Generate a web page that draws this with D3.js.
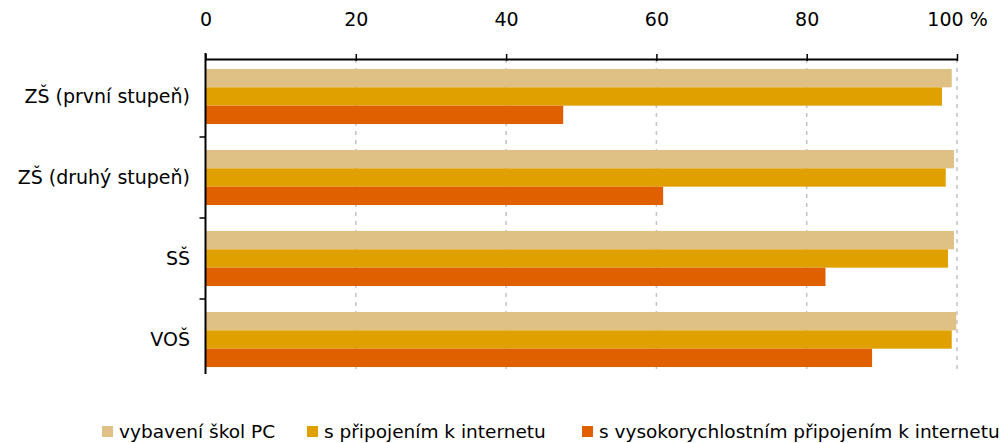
<!DOCTYPE html>
<html>
<head>
<meta charset="utf-8">
<script src="https://cdn.jsdelivr.net/npm/d3@7"></script>
<style>
	body { margin: 0; background: #fff; }
	svg { display: block; font-family: "DejaVu Sans", Verdana, sans-serif; }
	.tick text { fill: #000; }
</style>
</head>
<body>
<svg width="1008" height="443"></svg>
<script>
var categories = ['ZŠ (první stupeň)', 'ZŠ (druhý stupeň)', 'SŠ', 'VOŠ'];
var seriesNames = ['vybavení škol PC', 's připojením k internetu', 's vysokorychlostním připojením k internetu'];
var pcValues = [99.3, 99.6, 99.6, 99.9];
var internetValues = [98.0, 98.5, 98.8, 99.3];
var highSpeedValues = [47.6, 60.9, 82.5, 88.7];
var xTicks = [0, 20, 40, 60, 80, 100];
var colors = ['#dfc185', '#e0a000', '#e06000'];

var series = [pcValues, internetValues, highSpeedValues];
var fontSize = '19px';

var svg = d3.select('svg');

var x = d3.scaleLinear()
				.domain([0, 100])
				.range([205.5, 957]);

var y = d3.scaleBand()
				.domain(categories)
				.range([56, 380])
				.paddingInner(0.32)
				.paddingOuter(0.16);

var inner = d3.scaleBand()
				.domain(d3.range(series.length))
				.range([0, y.bandwidth()]);

var axisTop = 59, axisBottom = 374;

// dashed grid
svg.append('g')
	.selectAll('line')
	.data(xTicks.slice(1))
	.enter().append('line')
	.attr('x1', function(d) { return x(d); })
	.attr('x2', function(d) { return x(d); })
	.attr('y1', axisTop)
	.attr('y2', axisBottom)
	.attr('stroke', '#c4c4c4')
	.attr('stroke-width', 1.5)
	.attr('stroke-dasharray', '4,5');

// bars
var groups = svg.append('g')
	.selectAll('g')
	.data(categories)
	.enter().append('g')
	.attr('transform', function(d) { return 'translate(0,' + y(d) + ')'; });

groups.selectAll('rect')
	.data(function(d, i) {
		return series.map(function(s, j) { return {k: j, v: s[i]}; });
	})
	.enter().append('rect')
	.attr('x', x(0))
	.attr('y', function(d) { return inner(d.k); })
	.attr('width', function(d) { return x(d.v) - x(0); })
	.attr('height', inner.bandwidth())
	.attr('fill', function(d) { return colors[d.k]; });

// top axis
var xAxis = d3.axisTop(x)
				.tickValues(xTicks)
				.tickSizeInner(5)
				.tickSizeOuter(0)
				.tickPadding(28)
				.tickFormat(function(d) { return d === 100 ? '100 %' : d; });

var gx = svg.append('g')
	.attr('transform', 'translate(0,' + axisTop + ')')
	.call(xAxis);
gx.select('.domain').attr('stroke', '#000').attr('stroke-width', 2);
gx.selectAll('.tick line').attr('y2', -5).attr('y1', 2).attr('stroke', '#000').attr('stroke-width', 1.5);
gx.selectAll('.tick text').style('font-size', fontSize).style('font-family', '"DejaVu Sans", Verdana, sans-serif');

// left axis
svg.append('line')
	.attr('x1', x(0)).attr('x2', x(0))
	.attr('y1', axisTop - 6).attr('y2', axisBottom)
	.attr('stroke', '#000')
	.attr('stroke-width', 2);

var step = y.step();
svg.append('g')
	.selectAll('line')
	.data(categories.slice(1))
	.enter().append('line')
	.attr('x1', x(0) - 6)
	.attr('x2', x(0))
	.attr('y1', function(d) { return y(d) - step * y.paddingInner() / 2; })
	.attr('y2', function(d) { return y(d) - step * y.paddingInner() / 2; })
	.attr('stroke', '#000')
	.attr('stroke-width', 1.5);

svg.append('g')
	.selectAll('text')
	.data(categories)
	.enter().append('text')
	.attr('x', 190)
	.attr('y', function(d) { return y(d) + y.bandwidth() / 2; })
	.attr('dy', '0.35em')
	.attr('text-anchor', 'end')
	.style('font-size', fontSize)
	.text(function(d) { return d; });

// legend
var legendX = [102, 307, 582];
var legend = svg.append('g')
	.selectAll('g')
	.data(seriesNames)
	.enter().append('g')
	.attr('transform', function(d, i) { return 'translate(' + legendX[i] + ',432)'; });

legend.append('rect')
	.attr('x', 0)
	.attr('y', -6)
	.attr('width', 11)
	.attr('height', 11)
	.attr('fill', function(d, i) { return colors[i]; });

legend.append('text')
	.attr('x', 17)
	.attr('dy', '0.35em')
	.style('font-size', '18.5px')
	.text(function(d) { return d; });
</script>
</body>
</html>
